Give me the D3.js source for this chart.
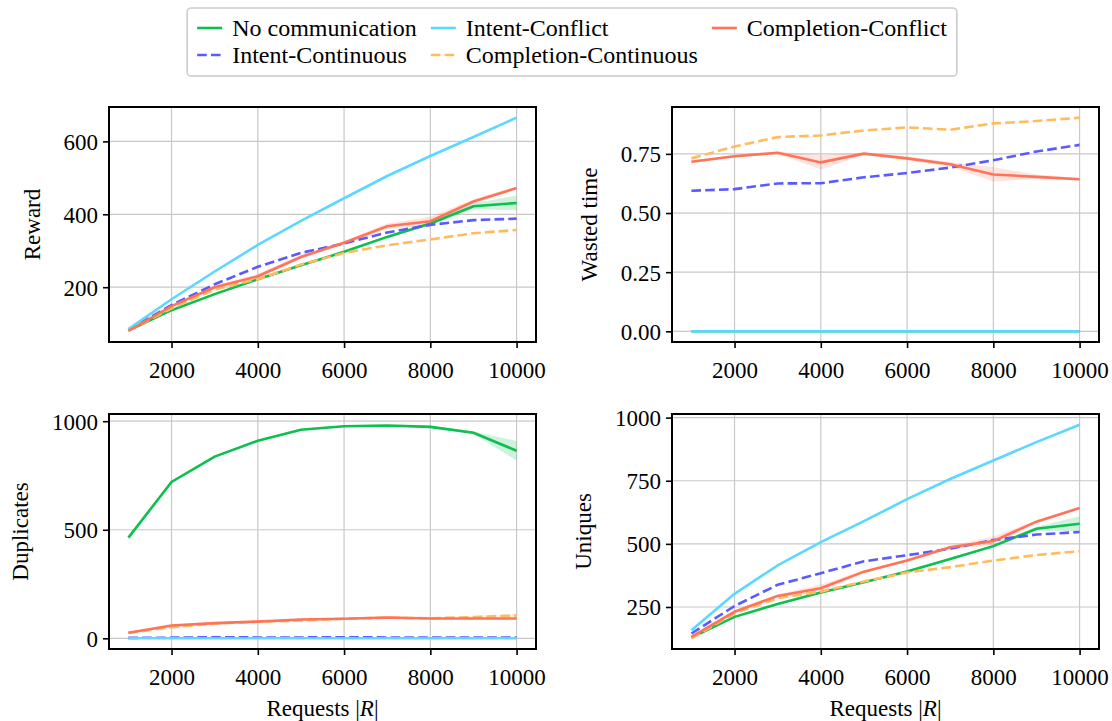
<!DOCTYPE html>
<html>
<head>
<meta charset="utf-8">
<script src="https://cdn.jsdelivr.net/npm/d3@7"></script>
<style>
  body { margin: 0; background: #fff; }
  svg { display: block; }
  text { font-family: "Liberation Serif", "Times New Roman", serif; fill: #000; }
</style>
</head>
<body>
<div id="chart"></div>
<script>
// x values shared by every panel
const requests = [1000, 2000, 3000, 4000, 5000, 6000, 7000, 8000, 9000, 10000];
const xTicks = [2000, 4000, 6000, 8000, 10000];

// series in plotting order (legend fills column-wise, 3 columns)
const seriesNames = ["No communication", "Intent-Continuous", "Intent-Conflict", "Completion-Continuous", "Completion-Conflict"];

// Reward
const rewardNoComm       = [81, 137, 181, 222, 260, 297, 338, 375, 422, 431];
const rewardIntentCont   = [83, 151, 208, 256, 294, 320, 350, 371, 384, 388];
const rewardIntentConf   = [85, 167, 243, 316, 382, 444, 505, 560, 612, 665];
const rewardComplCont    = [81, 142, 194, 222, 262, 294, 315, 331, 348, 357];
const rewardComplConf    = [80, 148, 200, 230, 283, 322, 367, 381, 435, 472];
const rewardNoCommSpread    = [1, 2, 2, 3, 3, 3, 4, 5, 8, 20];
const rewardComplConfSpread = [1, 3, 5, 6, 5, 5, 8, 12, 6, 4];
const rewardTicks = [200, 400, 600];

// Wasted time
const wastedNoComm     = [0, 0, 0, 0, 0, 0, 0, 0, 0, 0];
const wastedIntentCont = [0.594, 0.601, 0.625, 0.626, 0.651, 0.669, 0.692, 0.723, 0.760, 0.788];
const wastedIntentConf = [0, 0, 0, 0, 0, 0, 0, 0, 0, 0];
const wastedComplCont  = [0.731, 0.781, 0.821, 0.828, 0.849, 0.862, 0.852, 0.879, 0.889, 0.903];
const wastedComplConf  = [0.717, 0.740, 0.755, 0.714, 0.751, 0.731, 0.706, 0.663, 0.653, 0.643];
const wastedComplConfSpread = [0.005, 0.005, 0.005, 0.03, 0.005, 0.008, 0.01, 0.03, 0.01, 0.005];
const wastedTicks = [0, 0.25, 0.5, 0.75];

// Duplicates
const dupNoComm     = [464, 720, 837, 910, 961, 977, 980, 974, 947, 864];
const dupIntentCont = [2, 3, 5, 4, 4, 5, 4, 4, 4, 4];
const dupIntentConf = [0, 0, 0, 0, 0, 0, 0, 0, 0, 0];
const dupComplCont  = [25, 51, 68, 76, 82, 90, 95, 92, 98, 105];
const dupComplConf  = [26, 59, 70, 77, 87, 90, 96, 91, 91, 91];
const dupNoCommSpread    = [3, 4, 4, 4, 4, 4, 4, 6, 6, 45];
const dupComplContSpread = [2, 3, 3, 3, 3, 3, 3, 3, 6, 8];
const dupTicks = [0, 500, 1000];

// Uniques
const uniqNoComm     = [129, 211, 262, 307, 348, 391, 440, 491, 560, 580];
const uniqIntentCont = [145, 254, 338, 384, 431, 455, 481, 515, 537, 547];
const uniqIntentConf = [158, 302, 415, 507, 590, 677, 757, 830, 903, 972];
const uniqComplCont  = [126, 225, 285, 311, 351, 387, 408, 434, 456, 471];
const uniqComplConf  = [132, 231, 294, 324, 390, 434, 487, 511, 588, 642];
const uniqNoCommSpread    = [2, 3, 3, 4, 4, 5, 5, 6, 8, 29];
const uniqComplConfSpread = [2, 5, 6, 15, 5, 6, 6, 18, 6, 4];
const uniqTicks = [250, 500, 750, 1000];

// styles
const colors = {
    "No communication": "#0cbf4e",
    "Intent-Continuous": "#5a5aff",
    "Intent-Conflict": "#5cd7ff",
    "Completion-Continuous": "#ffbb5c",
    "Completion-Conflict": "#ff7358"
};
const dashed = { "Intent-Continuous": true, "Completion-Continuous": true };

const width = 1112;
const height = 721;
const fontFamily = "Liberation Serif, Times New Roman, serif";
const fontSize = 23;
const legendFontSize = 24;
const lineWidth = 2.6;
const dashArray = "9.6,4.2";
const axW = 427, axH = 235;

const panels = [
    { label: "Reward", left: 109, top: 107, ticks: rewardTicks, fmt: d3.format("d"), xlabel: false,
      values: [rewardNoComm, rewardIntentCont, rewardIntentConf, rewardComplCont, rewardComplConf],
      spread: [rewardNoCommSpread, null, null, null, rewardComplConfSpread] },
    { label: "Wasted time", left: 672, top: 107, ticks: wastedTicks, fmt: d3.format(".2f"), xlabel: false,
      values: [wastedNoComm, wastedIntentCont, wastedIntentConf, wastedComplCont, wastedComplConf],
      spread: [null, null, null, null, wastedComplConfSpread] },
    { label: "Duplicates", left: 109, top: 414, ticks: dupTicks, fmt: d3.format("d"), xlabel: true,
      values: [dupNoComm, dupIntentCont, dupIntentConf, dupComplCont, dupComplConf],
      spread: [dupNoCommSpread, null, null, dupComplContSpread, null] },
    { label: "Uniques", left: 672, top: 414, ticks: uniqTicks, fmt: d3.format("d"), xlabel: true,
      values: [uniqNoComm, uniqIntentCont, uniqIntentConf, uniqComplCont, uniqComplConf],
      spread: [uniqNoCommSpread, null, null, null, uniqComplConfSpread] }
];

const svg = d3.select("#chart").append("svg")
    .attr("width", width)
    .attr("height", height)
    .attr("font-family", fontFamily)
    .attr("font-size", fontSize);

panels.forEach(p => {
    // y domain like matplotlib autoscale: data (with bands) plus 5% margin
    let lo = Infinity, hi = -Infinity;
    p.values.forEach((vals, i) => {
        vals.forEach((v, j) => {
            const s = p.spread[i] ? p.spread[i][j] : 0;
            lo = Math.min(lo, v - s);
            hi = Math.max(hi, v + s);
        });
    });
    const pad = (hi - lo) * 0.05;
    const x = d3.scaleLinear().domain([550, 10450]).range([0, axW]);
    const y = d3.scaleLinear().domain([lo - pad, hi + pad]).range([axH, 0]);

    const g = svg.append("g").attr("transform", `translate(${p.left},${p.top})`);

    // grid
    g.append("g").selectAll("line").data(xTicks).join("line")
        .attr("x1", d => x(d)).attr("x2", d => x(d))
        .attr("y1", 0).attr("y2", axH)
        .attr("stroke", "#c8c8c8").attr("stroke-width", 1.2);
    g.append("g").selectAll("line").data(p.ticks).join("line")
        .attr("x1", 0).attr("x2", axW)
        .attr("y1", d => y(d)).attr("y2", d => y(d))
        .attr("stroke", "#c8c8c8").attr("stroke-width", 1.2);

    // bands + lines
    const clip = "clip-" + p.label.replace(/\s/g, "");
    g.append("clipPath").attr("id", clip).append("rect").attr("width", axW).attr("height", axH);
    const plot = g.append("g").attr("clip-path", `url(#${clip})`);

    seriesNames.forEach((name, i) => {
        const vals = p.values[i];
        const sp = p.spread[i];
        if (sp) {
            const area = d3.area()
                .x((d, j) => x(requests[j]))
                .y0((d, j) => y(d - sp[j]))
                .y1((d, j) => y(d + sp[j]));
            plot.append("path").datum(vals)
                .attr("d", area)
                .attr("fill", colors[name])
                .attr("fill-opacity", 0.2);
        }
    });
    seriesNames.forEach((name, i) => {
        const line = d3.line().x((d, j) => x(requests[j])).y(d => y(d));
        plot.append("path").datum(p.values[i])
            .attr("d", line)
            .attr("fill", "none")
            .attr("stroke", colors[name])
            .attr("stroke-width", lineWidth)
            .attr("stroke-dasharray", dashed[name] ? dashArray : null);
    });

    // axes
    const xAxis = g.append("g").attr("transform", `translate(0,${axH})`)
        .call(d3.axisBottom(x).tickValues(xTicks).tickSize(6).tickPadding(6).tickFormat(d3.format("d")));
    const yAxis = g.append("g")
        .call(d3.axisLeft(y).tickValues(p.ticks).tickSize(6).tickPadding(5).tickFormat(p.fmt));
    [xAxis, yAxis].forEach(a => {
        a.attr("font-family", fontFamily).attr("font-size", fontSize);
        a.select(".domain").remove();
        a.selectAll(".tick line").attr("stroke", "#000").attr("stroke-width", 1.6);
        a.selectAll("text").attr("fill", "#000");
    });
    xAxis.selectAll("text").attr("dy", null).attr("y", 36);
    yAxis.selectAll("text").attr("dy", "0.34em");

    // frame
    g.append("rect").attr("width", axW).attr("height", axH)
        .attr("fill", "none").attr("stroke", "#000").attr("stroke-width", 2);

    // y label placed left of widest tick label
    let minLeft = 0;
    yAxis.selectAll("text").each(function() {
        minLeft = Math.min(minLeft, this.getBBox().x);
    });
    g.append("text")
        .attr("transform", `translate(${minLeft - 24},${axH / 2}) rotate(-90)`)
        .attr("text-anchor", "middle")
        .text(p.label);

    if (p.xlabel) {
        const t = g.append("text")
            .attr("x", axW / 2).attr("y", axH + 67)
            .attr("text-anchor", "middle");
        t.append("tspan").text("Requests |");
        t.append("tspan").attr("font-style", "italic").text("R");
        t.append("tspan").text("|");
    }
});

// legend: 3 columns filled column-wise
const legend = svg.append("g").attr("font-size", legendFontSize);
const box = legend.append("rect");
const handleLen = 25, handlePad = 10, colSpacing = 14, rowGap = 27;
const nRows = 2;
const cols = d3.groups(seriesNames.map((n, i) => ({ name: n, i })), d => Math.floor(d.i / nRows));
const items = legend.append("g");
let cx = 0;
cols.forEach(([c, entries]) => {
    let maxW = 0;
    entries.forEach((e, r) => {
        const row = items.append("g").attr("transform", `translate(${cx},${r * rowGap})`);
        row.append("line")
            .attr("x1", 0).attr("x2", handleLen).attr("y1", 0).attr("y2", 0)
            .attr("stroke", colors[e.name]).attr("stroke-width", lineWidth)
            .attr("stroke-dasharray", dashed[e.name] ? dashArray : null);
        const t = row.append("text")
            .attr("x", handleLen + handlePad).attr("y", 0).attr("dy", "0.34em")
            .text(e.name);
        maxW = Math.max(maxW, t.node().getComputedTextLength());
    });
    cx += handleLen + handlePad + maxW + colSpacing;
});
const legW = cx - colSpacing + 20;
const legX = (187 + 957) / 2 - legW / 2;
items.attr("transform", `translate(${legX + 10},${28})`);
box.attr("x", legX).attr("y", 8).attr("width", legW).attr("height", 68)
    .attr("rx", 4).attr("fill", "#fff").attr("stroke", "#cccccc").attr("stroke-width", 1.6);
</script>
</body>
</html>
